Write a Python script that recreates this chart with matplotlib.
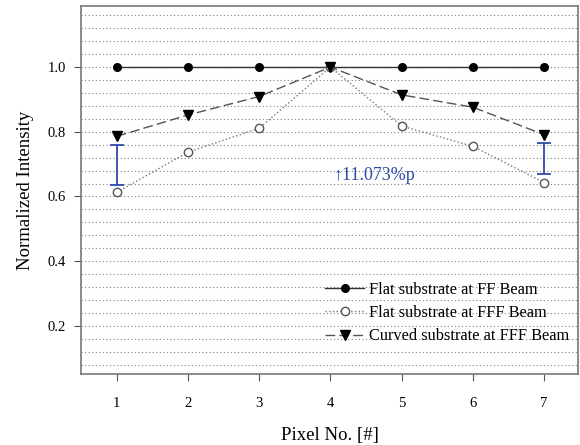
import numpy as np
import matplotlib.pyplot as plt

pixels = [1, 2, 3, 4, 5, 6, 7]
flat_ff = [1.0, 1.0, 1.0, 1.0, 1.0, 1.0, 1.0]
flat_fff = [0.613, 0.737, 0.811, 1.0, 0.818, 0.755, 0.643]
curved_fff = [0.786, 0.852, 0.909, 1.0, 0.914, 0.876, 0.791]

# blue bars marking the gain at the edge pixels
bar_x = [1, 7]
bar_low = [0.636, 0.668]
bar_high = [0.759, 0.765]
note = "\u219111.073%p"
note_xy = (4.05, 0.665)

plt.rcParams["font.family"] = ["Liberation Serif", "DejaVu Serif"]

fig = plt.figure(figsize=(5.8, 4.45), dpi=100)
ax = fig.add_axes([0.14, 0.16, 0.857, 0.826])

for y in np.arange(0.08, 1.17, 0.04):
    ax.axhline(y, color="#808080", lw=0.8, ls=(0, (1, 2.2)), zorder=0)

ax.plot(pixels, flat_ff, "-", color="#333333", lw=1.0, marker="o", ms=5.5,
        mfc="black", mec="black", label="Flat substrate at FF Beam")
ax.plot(pixels, flat_fff, ":", color="#777777", lw=1.0, marker="o", ms=6,
        mfc="white", mec="#555555", label="Flat substrate at FFF Beam")
ax.plot(pixels, curved_fff, "--", color="#555555", lw=1.0, dashes=(7, 3),
        marker="v", ms=6.5, mfc="black", mec="black",
        label="Curved substrate at FFF Beam")

mid = [(a + b) / 2 for a, b in zip(bar_low, bar_high)]
half = [(b - a) / 2 for a, b in zip(bar_low, bar_high)]
ax.errorbar(bar_x, mid, yerr=half, fmt="none", ecolor="#2e4aa8",
            elinewidth=1.3, capsize=5, capthick=1.3)
ax.text(note_xy[0], note_xy[1], note, color="#2e4aa8", fontsize=13,
        va="center", ha="left")

ax.set_xlim(0.5, 7.48)
ax.set_ylim(0.052, 1.188)
ax.set_xticks(pixels)
ax.set_yticks([0.2, 0.4, 0.6, 0.8, 1.0])
ax.set_yticklabels(["0.2", "0.4", "0.6", "0.8", "1.0"])
ax.tick_params(labelsize=10.5, length=5, color="#555555", pad=6)
ax.tick_params(axis="x", pad=12)
for s in ax.spines.values():
    s.set_color("#777777")
    s.set_linewidth(1.2)

ax.set_xlabel("Pixel No. [#]", fontsize=13.5, labelpad=12)
ax.set_ylabel("Normalized Intensity", fontsize=13.5, labelpad=10)

ax.legend(loc="lower right", bbox_to_anchor=(1.012, 0.04), frameon=False,
          fontsize=11.8, handlelength=2.4, handletextpad=0.3,
          labelspacing=0.45)

fig.savefig("out.png", dpi=100)
